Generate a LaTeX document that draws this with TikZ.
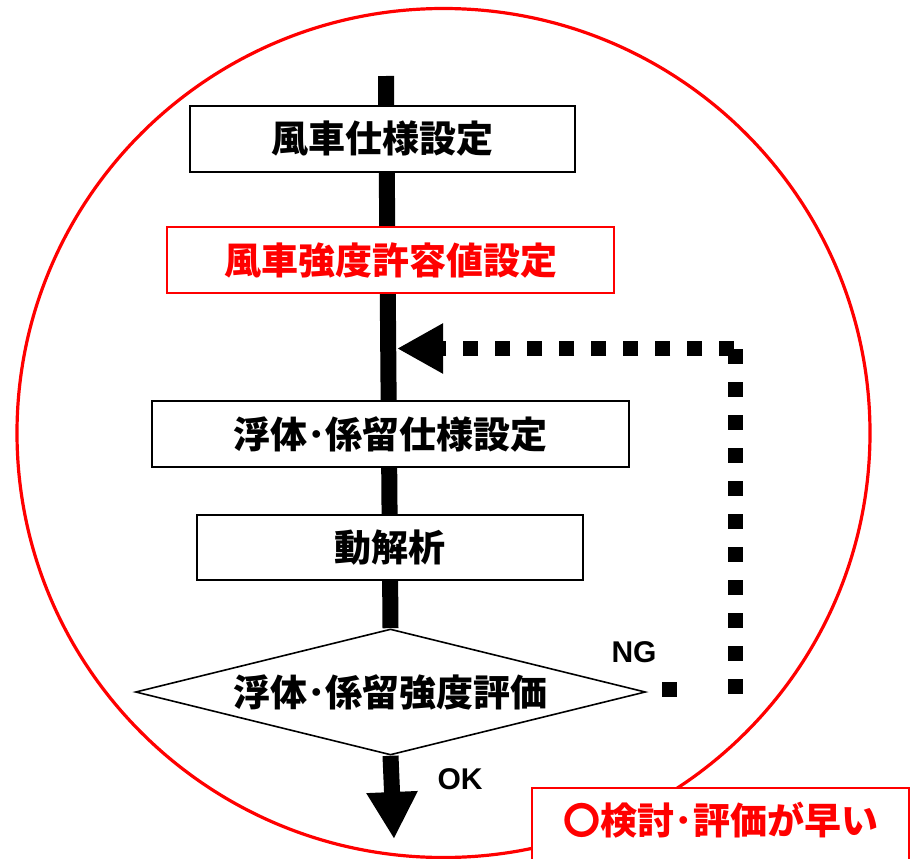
\documentclass[tikz,border=0pt]{standalone}
\usepackage{fontspec}
\setmainfont{Liberation Sans}
\newfontfamily\jp{Noto Sans CJK JP}
\usetikzlibrary{shapes.geometric,arrows.meta,backgrounds}
\definecolor{pured}{RGB}{255,0,0}
\begin{document}
\begin{tikzpicture}[x=1pt,y=-1pt,
  stepbox/.style={draw=black, line width=1.6pt, fill=white, inner sep=0pt,
    font=\jp\bfseries\fontsize{37pt}{42pt}\selectfont},
  redbox/.style={stepbox, draw=pured, text=pured},
  decbox/.style={shape=diamond, draw=black, line width=1.6pt, fill=white, inner sep=0pt,
    aspect=4.06, minimum width=510pt, minimum height=126pt,
    font=\jp\bfseries\fontsize{37pt}{42pt}\selectfont},
  mainline/.style={line width=16pt, draw=black},
  dotline/.style={line width=15pt, draw=black, line cap=butt, dash pattern=on 15pt off 17pt},
  lbl/.style={font=\bfseries\fontsize{30pt}{34pt}\selectfont, inner sep=0pt}
]
\useasboundingbox (0,0) rectangle (910,859);
% red circle
\draw[draw=pured, line width=3.2pt] (443.5,433) ellipse [x radius=426.5pt, y radius=424.5pt];

% boxes
\node[stepbox, minimum width=385pt, minimum height=66pt] (b1) at (382.5,139) {風車仕様設定};
\node[redbox,  minimum width=447pt, minimum height=66pt] (b2) at (390.5,260) {風車強度許容値設定};
\node[stepbox, minimum width=477pt, minimum height=66pt] (b3) at (390.5,434) {浮体･係留仕様設定};
\node[stepbox, minimum width=386pt, minimum height=65pt] (b4) at (390,547.5) {動解析};
\node[decbox] (dia) at (390.5,692) {浮体･係留強度評価};

% coordinates
\coordinate (top) at (386,76);
\coordinate (okend) at (394,839);
\coordinate (fbtip) at (397,348.5);
\coordinate (fbcornerH) at (734,348.5);
\coordinate (fbcornerV) at (735,349);
\coordinate (fbbotV) at (735,694);
\coordinate (ngstart) at (662,689.5);
\coordinate (ngend) at (678,689.5);

\begin{scope}[on background layer]
  \draw[mainline] (top) -- (dia.north);
  \draw[mainline, -{Triangle[length=47pt,width=48pt]}] (dia.south) -- (okend);
\end{scope}

% feedback loop
\draw[dotline] (ngstart) -- (ngend);
\draw[dotline, dash pattern=on 15pt off 18pt] (fbcornerV) -- (fbbotV);
\draw[dotline, -{Triangle[length=46pt,width=47pt]}] (fbcornerH) -- (fbtip);

% labels
\node[lbl] (ng) at (634,652) {NG};
\node[lbl] (ok) at (460,779) {OK};

% result box
\node[draw=pured, line width=2.4pt, fill=white, minimum width=377pt, minimum height=100pt,
  anchor=north west, inner sep=0pt] (res) at (531,787) {};
\node[text=pured, inner sep=0pt, font=\jp\bfseries\fontsize{37pt}{42pt}\selectfont] (restext) at (721,820) {〇検討･評価が早い};
\end{tikzpicture}
\end{document}
